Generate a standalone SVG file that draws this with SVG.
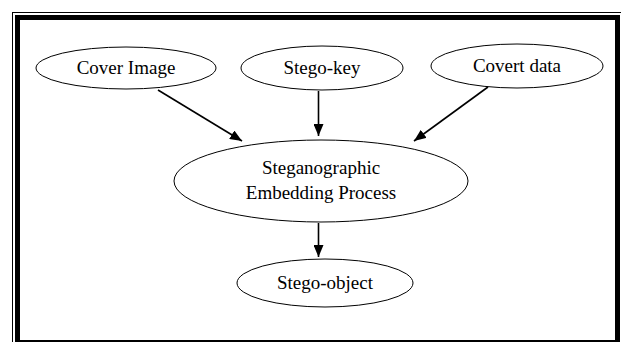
<svg xmlns="http://www.w3.org/2000/svg" width="621" height="342" viewBox="0 0 621 342">
<style>
.node ellipse{fill:#fff;stroke:#000;stroke-width:1}
.node text{font-family:"Liberation Serif","Times New Roman",serif;font-size:19px;fill:#000;text-anchor:middle}
.edge{stroke:#000;stroke-width:1.6;fill:none;marker-end:url(#ah)}
</style>
<defs>
<marker id="ah" viewBox="0 0 12 10" refX="12" refY="5" markerWidth="12" markerHeight="10" markerUnits="userSpaceOnUse" orient="auto">
<path d="M0,0 L12,5 L0,10 Z" fill="#000"/>
</marker>
</defs>
<rect x="0" y="0" width="621" height="342" fill="#fff"/>
<g id="frame">
<rect x="12.5" y="12.5" width="630" height="350" fill="none" stroke="#000" stroke-width="1"/>
<rect x="17.5" y="17.5" width="600" height="325" fill="none" stroke="#000" stroke-width="5"/>
</g>
<g id="n-cover" class="node">
<ellipse cx="126" cy="68" rx="90" ry="21"/>
<text x="126" y="74">Cover Image</text>
</g>
<g id="n-key" class="node">
<ellipse cx="322" cy="68" rx="81" ry="22"/>
<text x="322" y="74">Stego-key</text>
</g>
<g id="n-covert" class="node">
<ellipse cx="517" cy="66" rx="86" ry="22"/>
<text x="517" y="72">Covert data</text>
</g>
<g id="n-embed" class="node">
<ellipse cx="321" cy="181" rx="147" ry="41"/>
<text x="321" y="174">Steganographic</text>
<text x="321" y="199">Embedding Process</text>
</g>
<g id="n-object" class="node">
<ellipse cx="325" cy="283" rx="88" ry="24"/>
<text x="325" y="289">Stego-object</text>
</g>
<g id="edges">
<line class="edge" x1="158" y1="90" x2="242" y2="141"/>
<line class="edge" x1="318.5" y1="91" x2="318.5" y2="136"/>
<line class="edge" x1="488" y1="87" x2="414" y2="141"/>
<line class="edge" x1="318.5" y1="223" x2="318.5" y2="257"/>
</g>
</svg>
